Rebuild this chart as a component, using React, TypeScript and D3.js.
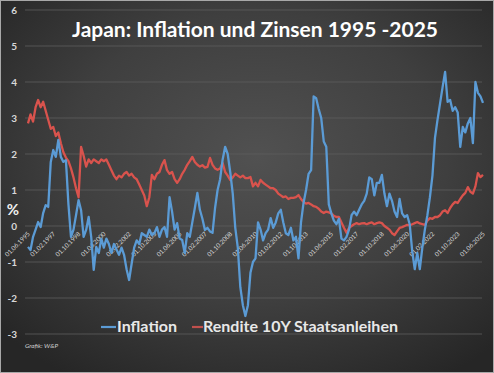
import * as d3 from "d3";

// Monatswerte alle 2 Monate, ab 06/1995 bis 06/2025
const inflation: number[] = [
  -0.58, -0.67, -0.3, -0.1, 0.11, -0.03, 0.36, 0.58, 0.53, 1.78,
  2.11, 1.92, 2.39, 1.92, 1.78, 1.83, 0.6, -0.3, -0.1, 0.3,
  0.72, 0.44, -0.3, -0.11, 0.25, -0.3, -1.22, -0.58, -0.75, -0.35,
  -0.6, -0.35, -0.5, -0.75, -0.5, -0.65, -0.8, -0.6, -0.8, -1.2,
  -1.5, -1.05, -0.6, -0.4, -0.5, -0.2, -0.25, -0.3, -0.1, -0.25,
  -0.2, -0.03, -0.3, -0.1, -0.03, -0.3, 0.8, 0.4, -0.1, 0.08,
  -0.35, -0.39, -0.75, -0.2, -0.3, 0.1, 0.5, 0.92, 0.45, 0.2,
  -0.11, -0.05, -0.15, -0.19, 0.5, 1.0, 1.3, 1.85, 2.2, 2.0,
  1.5, 0.9, -0.05, -0.6, -1.7, -2.2, -2.5, -2.2, -1.3, -1.0,
  -0.9, 0.1, -0.1, -0.4, -0.2, -0.1, 0.22, -0.05, 0.1, 0.35,
  0.45, 0.1, -0.2, -0.25, -0.05, -0.4, -0.3, -0.9, 0.1, 0.64,
  1.0, 1.45, 1.55, 3.6, 3.55, 3.25, 3.0, 2.35, 2.2, 0.6,
  0.35, 0.15, 0.05, 0.2, -0.35, -0.4, -0.3, -0.1, 0.3, 0.4,
  0.3, 0.45, 0.6, 0.7, 0.9, 1.35, 1.3, 0.85, 1.2, 1.2,
  1.42, 0.9, 0.55, 0.9, 0.7, 0.4, 0.25, 0.75, 0.35, 0.25,
  0.3, 0.05, -0.7, -1.2, -0.75, -1.2, -0.6, -0.1, 0.3, 0.8,
  1.4, 2.45, 2.95, 3.4, 3.85, 4.28, 3.45, 3.5, 3.2, 3.3,
  3.15, 2.2, 2.75, 2.6, 2.85, 3.0, 2.3, 4.0, 3.7, 3.6,
  3.42,
];

const rendite: number[] = [
  2.85, 3.1, 2.9, 3.3, 3.5, 3.3, 3.45, 3.2, 2.95, 2.7,
  2.75, 2.5, 2.6, 2.3, 2.05, 1.9, 1.8, 1.6, 1.35, 1.05,
  0.8, 2.2, 1.95, 1.65, 1.85, 1.75, 1.85, 1.8, 1.75, 1.85,
  1.8, 1.85, 1.7, 1.55, 1.4, 1.3, 1.4, 1.35, 1.45, 1.5,
  1.4, 1.45, 1.35, 1.3, 1.15, 1.0, 0.85, 0.55, 0.8, 1.42,
  1.3, 1.45, 1.5, 1.7, 1.83, 1.55, 1.45, 1.5, 1.3, 1.2,
  1.3, 1.45, 1.56, 1.7, 1.8, 1.92, 1.78, 1.7, 1.65, 1.69,
  1.62, 1.64, 1.89, 1.7, 1.6, 1.56, 1.6, 1.75, 1.5, 1.4,
  1.28, 1.35, 1.45, 1.4, 1.35, 1.4, 1.33, 1.33, 1.36, 1.1,
  1.2, 1.1, 1.28, 1.2, 1.15, 1.1, 1.05, 1.05, 1.0, 0.9,
  0.85, 0.8, 0.82, 0.75, 0.78, 0.78, 0.8, 0.86, 0.75, 0.67,
  0.62, 0.64, 0.6, 0.55, 0.53, 0.48, 0.4, 0.36, 0.4, 0.38,
  0.35, 0.28, 0.25, 0.25, 0.1, -0.05, -0.19, -0.05, 0.0, 0.05,
  0.08, 0.05, 0.07, 0.08, 0.05, 0.08, 0.1, 0.05, 0.08, 0.1,
  0.08, 0.0, -0.05, -0.1, -0.2, -0.25, -0.15, -0.05, -0.03, 0.0,
  0.03, 0.02, 0.05, 0.08, 0.11, 0.07, 0.05, 0.03, 0.15, 0.22,
  0.2, 0.25, 0.25, 0.3, 0.4, 0.44, 0.36, 0.5, 0.6, 0.67,
  0.64, 0.75, 0.85, 0.92, 1.08, 0.95, 0.9, 1.1, 1.47, 1.36,
  1.42,
];

const dateLabels: string[] = [
  "01.06.1995", "01.02.1997", "01.10.1998", "01.06.2000", "01.02.2002",
  "01.10.2003", "01.06.2005", "01.02.2007", "01.10.2008", "01.06.2010",
  "01.02.2012", "01.10.2013", "01.06.2015", "01.02.2017", "01.10.2018",
  "01.06.2020", "01.02.2022", "01.10.2023", "01.06.2025",
];

const yTicks: number[] = [-3, -2, -1, 0, 1, 2, 3, 4, 5, 6];

const W = 494;
const H = 373;

export default function App() {
  const x = d3.scaleLinear().domain([0, 360]).range([28, 483]);
  const y = d3.scaleLinear().domain([-3, 6]).range([334, 10]);

  const line = d3
    .line<number>()
    .x((_, i) => x(i * 2))
    .y((d) => y(d));

  const labelStep = 360 / (dateLabels.length - 1);

  return (
    <>
      <style>{`body{margin:0}`}</style>
      <svg width={W} height={H} style={{ display: "block" }}>
        <defs>
          <radialGradient id="bg" cx="52%" cy="42%" r="70%">
            <stop offset="0%" stopColor="#515151" />
            <stop offset="55%" stopColor="#3f3f3f" />
            <stop offset="100%" stopColor="#262626" />
          </radialGradient>
        </defs>
        <rect x={0} y={0} width={W} height={H} fill="url(#bg)" />
        <rect x={0.5} y={0.5} width={W - 1} height={H - 1} fill="none" stroke="#a8a8a8" />

        {/* Gitterlinien + Y-Achse */}
        {yTicks.map((t) => (
          <g key={t}>
            <line x1={25} x2={482} y1={y(t)} y2={y(t)} stroke="#5d5d5d" strokeWidth={0.8} />
            <text
              x={17}
              y={y(t)}
              dy="0.35em"
              textAnchor="end"
              fontFamily="Lato, 'Open Sans', sans-serif"
              fontWeight="bold"
              fontSize={10}
              fill="#d8d8d8"
            >
              {t}
            </text>
          </g>
        ))}
        <text x={13} y={215} textAnchor="middle" fontFamily="Lato, sans-serif" fontWeight="bold" fontSize={15} fill="#f0f0f0">
          %
        </text>

        {/* Datumsbeschriftungen */}
        {dateLabels.map((l, i) => (
          <text
            key={l}
            transform={`translate(${x(i * labelStep) + 1},${233}) rotate(-45)`}
            textAnchor="end"
            dy="0.3em"
            fontFamily="Lato, 'Open Sans', sans-serif"
            fontSize={6.3}
            fill="#dadada"
          >
            {l}
          </text>
        ))}

        {/* Linien */}
        <path d={line(rendite) ?? ""} fill="none" stroke="#d9534d" strokeWidth={2.3} strokeLinejoin="round" />
        <path d={line(inflation) ?? ""} fill="none" stroke="#5b9bd5" strokeWidth={2.3} strokeLinejoin="round" />

        {/* Titel */}
        <text
          x={255}
          y={37}
          textAnchor="middle"
          fontFamily="Lato, sans-serif"
          fontWeight="bold"
          fontSize={21}
          fill="#ffffff"
          textLength={366}
          lengthAdjust="spacingAndGlyphs"
        >
          Japan: Inflation und Zinsen 1995 -2025
        </text>

        {/* Legende */}
        <line x1={101} x2={116} y1={327} y2={327} stroke="#5b9bd5" strokeWidth={2.2} />
        <text x={117} y={332} fontFamily="Lato, sans-serif" fontWeight="bold" fontSize={15.5} fill="#e8e8e8" textLength={60} lengthAdjust="spacingAndGlyphs">
          Inflation
        </text>
        <line x1={192} x2={203} y1={327} y2={327} stroke="#c0504d" strokeWidth={2.2} />
        <text x={203} y={332} fontFamily="Lato, sans-serif" fontWeight="bold" fontSize={15.5} fill="#e8e8e8" textLength={195} lengthAdjust="spacingAndGlyphs">
          Rendite 10Y Staatsanleihen
        </text>

        <text x={25} y={348} fontFamily="Lato, sans-serif" fontStyle="italic" fontSize={6.5} fill="#cfcfcf" textLength={33} lengthAdjust="spacingAndGlyphs">
          Grafik: W&amp;P
        </text>
      </svg>
    </>
  );
}
